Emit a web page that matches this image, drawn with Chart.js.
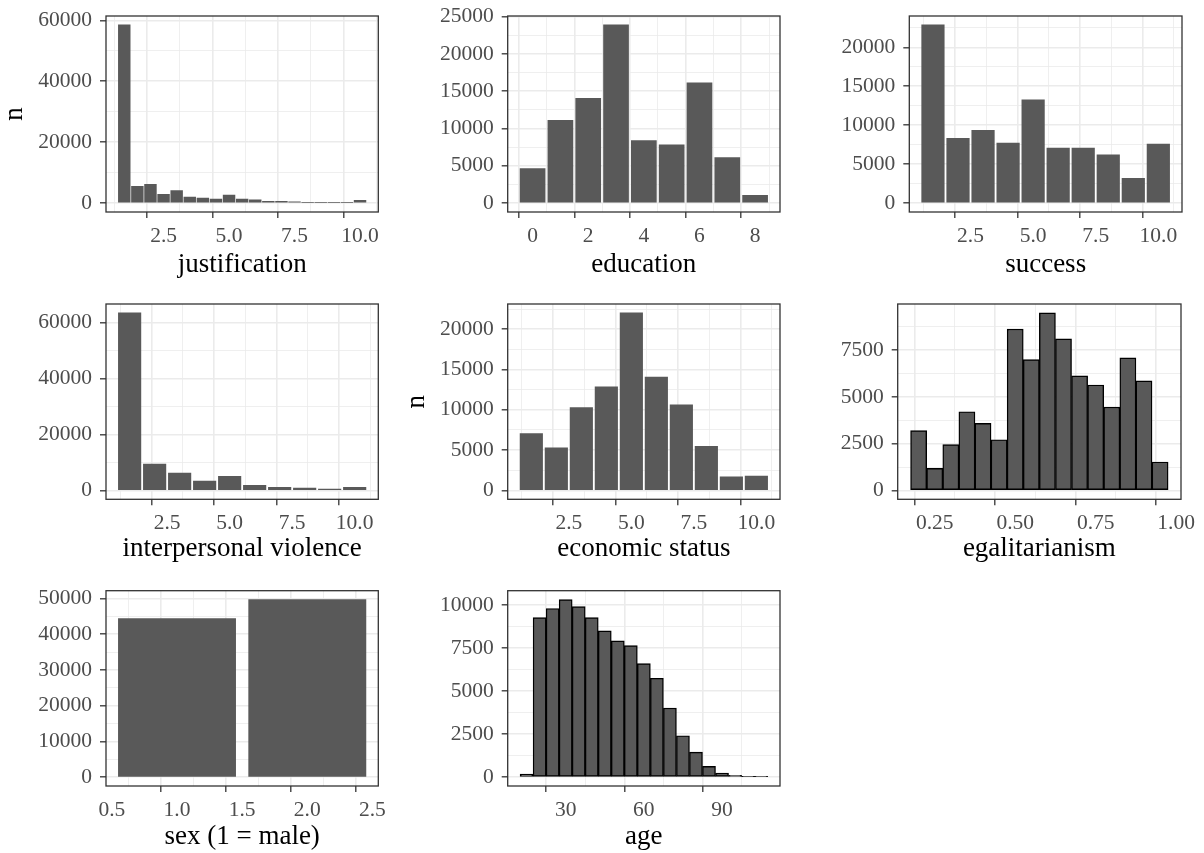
<!DOCTYPE html>
<html><head><meta charset="utf-8">
<script src="https://cdn.jsdelivr.net/npm/chart.js@4/dist/chart.umd.min.js"></script>
<style>
html,body{margin:0;padding:0;background:#fff;}
#wrap{position:relative;width:1204px;height:853px;overflow:hidden;background:#fff;}
</style></head>
<body><div id="wrap"></div>
<script>
// ---------- data ----------
const justX = [1,1.5,2,2.5,3,3.5,4,4.5,5,5.5,6,6.5,7,7.5,8,8.5,9,9.5,10];
const justN = [58500,5500,6150,2900,4100,2000,1650,1300,2600,1300,1100,550,550,450,200,200,200,200,900];
const eduX = [0,1,2,3,4,5,6,7,8];
const eduN = [4620,11090,14050,23880,8390,7810,16110,6100,1030];
const succX = [1,2,3,4,5,6,7,8,9,10];
const succN = [22880,8300,9330,7700,13250,7050,7050,6190,3180,7570];
const violX = [1,2,3,4,5,6,7,8,9,10];
const violN = [63500,9460,6230,3350,5030,1800,1080,840,480,1080];
const econX = [1,2,3,4,5,6,7,8,9,10];
const econN = [7050,5270,10290,12860,22030,14070,10620,5480,1700,1780];
const egalX = [0.2,0.25,0.3,0.35,0.4,0.45,0.5,0.55,0.6,0.65,0.7,0.75,0.8,0.85,0.9,0.95];
const egalN = [3200,1180,2450,4210,3590,2710,8630,7000,9500,8110,6130,5640,4460,7090,5860,1520];
const sexX = [1,2];
const sexN = [44400,49700];
const ageX = [15,20,25,30,35,40,45,50,55,60,65,70,75,80,85,90,95,100,105];
const ageN = [170,9260,9790,10310,9900,9260,8490,7910,7640,6590,5740,4010,2400,1450,620,230,100,30,20];

// tick labels (major breaks)
const justXTicks = [2.5,5,7.5,10];   const justYTicks = [0,20000,40000,60000];
const eduXTicks  = [0,2,4,6,8];      const eduYTicks  = [0,5000,10000,15000,20000,25000];
const succXTicks = [2.5,5,7.5,10];   const succYTicks = [0,5000,10000,15000,20000];
const violXTicks = [2.5,5,7.5,10];   const violYTicks = [0,20000,40000,60000];
const econXTicks = [2.5,5,7.5,10];   const econYTicks = [0,5000,10000,15000,20000];
const egalXTicks = [0.25,0.5,0.75,1];const egalYTicks = [0,2500,5000,7500];
const sexXTicks  = [0.5,1,1.5,2,2.5];const sexYTicks  = [0,10000,20000,30000,40000,50000];
const ageXTicks  = [30,60,90];       const ageYTicks  = [0,2500,5000,7500,10000];

// ---------- panels (layout) ----------
const FONT = "'Liberation Serif','Times New Roman',serif";
const panels = [
 {name:'justification', x:justX, n:justN, step:0.5, xt:justXTicks, yt:justYTicks, xd:1, hist:false, yTitle:true, nCx:16.7,
  cell:[0,0,400,285], box:[106,16,378.3,212], base:273.3},
 {name:'education', x:eduX, n:eduN, step:1, xt:eduXTicks, yt:eduYTicks, xd:0, hist:false,
  cell:[400,0,800,285], box:[507.7,16,780,212], base:273.3},
 {name:'success', x:succX, n:succN, step:1, xt:succXTicks, yt:succYTicks, xd:1, hist:false,
  cell:[800,0,1204,285], box:[909.3,16,1182,212], base:273.3},
 {name:'interpersonal violence', x:violX, n:violN, step:1, xt:violXTicks, yt:violYTicks, xd:1, hist:false,
  cell:[0,285,400,570], box:[106,304,378.3,499.3], base:557.3},
 {name:'economic status', x:econX, n:econN, step:1, xt:econXTicks, yt:econYTicks, xd:1, hist:false, yTitle:true, nCx:18.8,
  cell:[400,285,800,570], box:[507.7,304,780,499.3], base:557.3},
 {name:'egalitarianism', x:egalX, n:egalN, step:0.05, xt:egalXTicks, yt:egalYTicks, xd:2, hist:true,
  cell:[800,285,1204,570], box:[897.7,304,1181,499.3], base:557.3},
 {name:'sex (1 = male)', x:sexX, n:sexN, step:1, xt:sexXTicks, yt:sexYTicks, xd:1, hist:false,
  cell:[0,570,400,853], box:[106,590.7,378.3,786], base:845},
 {name:'age', x:ageX, n:ageN, step:5, xt:ageXTicks, yt:ageYTicks, xd:0, hist:true,
  cell:[400,570,800,853], box:[507.7,590.7,780,786], base:845}
];

const TICK_SIZE = 21.5, TITLE_SIZE = 27;
const near = (a,b) => Math.abs(a-b) < 1e-9;
function withMinors(majors, lo, hi){
  const step = majors[1]-majors[0];
  const minors = [majors[0]-step/2].concat(majors.map(v=>v+step/2));
  return majors.concat(minors).filter(v => v>lo && v<hi).sort((a,b)=>a-b);
}
const borderPlugin = {id:'pborder', afterDraw(chart){
  const {ctx, chartArea:a} = chart;
  ctx.save(); ctx.strokeStyle='#333333'; ctx.lineWidth=1.3;
  ctx.strokeRect(a.left, a.top, a.right-a.left, a.bottom-a.top);
  ctx.restore();
}};

const wrap = document.getElementById('wrap');
panels.forEach(p => {
  const [cx0,cy0,cx1,cy1] = p.cell, [bl,bt,br,bb] = p.box;
  const W = cx1-cx0, H = cy1-cy0;
  const c = document.createElement('canvas');
  c.width = W; c.height = H;
  c.style.cssText = `position:absolute;left:${cx0}px;top:${cy0}px;width:${W}px;height:${H}px;`;
  wrap.appendChild(c);

  const bw = p.hist ? p.step : p.step*0.9;
  const dlo = Math.min(...p.x) - bw/2, dhi = Math.max(...p.x) + bw/2;
  const ex = (dhi-dlo)*0.05;
  const xmin = dlo-ex, xmax = dhi+ex;
  const ymaxD = Math.max(...p.n);
  const ymin = -0.05*ymaxD, ymax = ymaxD*1.05;
  const xAll = withMinors(p.xt, xmin, xmax);
  const yAll = withMinors(p.yt, ymin, ymax);
  const xMaj = v => p.xt.some(m=>near(m,v));
  const yMaj = v => p.yt.some(m=>near(m,v));

  const titlePadBottom = cy1 - TITLE_SIZE/2 - (p.base - 0.305*TITLE_SIZE);
  const yTitlePad = p.yTitle ? (p.nCx - 0.0755*TITLE_SIZE - TITLE_SIZE/2) : 0;

  new Chart(c, {
    type:'bar',
    data:{datasets:[{
      data: p.x.map((v,i)=>({x:v, y:p.n[i]})),
      backgroundColor:'#595959',
      borderColor: p.hist ? '#000000' : 'rgba(0,0,0,0)',
      borderWidth: p.hist ? 1.4 : 0,
      borderSkipped:false,
      barThickness:'flex',
      barPercentage: p.hist ? 1 : 0.9,
      categoryPercentage: 1
    }]},
    options:{
      responsive:false, animation:false, devicePixelRatio:1, events:[],
      layout:{autoPadding:false, padding:{left:0, top:bt-cy0, right:cx1-br, bottom:0}},
      plugins:{legend:{display:false}, tooltip:{enabled:false}, title:{display:false}},
      scales:{
        x:{
          type:'linear', min:xmin, max:xmax, bounds:'data', offset:false,
          afterBuildTicks: s => { s.ticks = xAll.map(v=>({value:v})); },
          afterFit: s => { s.height = cy1-bb; s.paddingLeft=0; s.paddingRight=0; },
          ticks:{autoSkip:false, maxRotation:0, minRotation:0, padding:5, color:'#4D4D4D',
            font:{family:FONT, size:TICK_SIZE},
            callback: v => xMaj(v) ? Number(v).toFixed(p.xd) : ''},
          grid:{color:'#EBEBEB', lineWidth: ctx => (ctx.tick && xMaj(ctx.tick.value)) ? 1.6 : 0.8,
            drawTicks:true, tickLength:6, tickWidth:1.3,
            tickColor: ctx => (ctx.tick && xMaj(ctx.tick.value)) ? '#333333' : 'rgba(0,0,0,0)'},
          border:{display:false},
          title:{display:true, text:p.name, color:'#000000',
            font:{family:FONT, size:TITLE_SIZE, lineHeight:1},
            padding:{top:0, bottom:titlePadBottom}}
        },
        y:{
          type:'linear', min:ymin, max:ymax, bounds:'data',
          afterBuildTicks: s => { s.ticks = yAll.map(v=>({value:v})); },
          afterFit: s => { s.width = bl-cx0; s.paddingTop=0; s.paddingBottom=0; },
          ticks:{autoSkip:false, padding:8, color:'#4D4D4D',
            font:{family:FONT, size:TICK_SIZE},
            callback: v => yMaj(v) ? String(Math.round(v)) : ''},
          grid:{color:'#EBEBEB', lineWidth: ctx => (ctx.tick && yMaj(ctx.tick.value)) ? 1.6 : 0.8,
            drawTicks:true, tickLength:6, tickWidth:1.3,
            tickColor: ctx => (ctx.tick && yMaj(ctx.tick.value)) ? '#333333' : 'rgba(0,0,0,0)'},
          border:{display:false},
          title:{display:!!p.yTitle, text:'n', color:'#000000',
            font:{family:FONT, size:TITLE_SIZE, lineHeight:1},
            padding:{top:yTitlePad, bottom:0}}
        }
      }
    },
    plugins:[borderPlugin]
  });
});
</script>
</body></html>
